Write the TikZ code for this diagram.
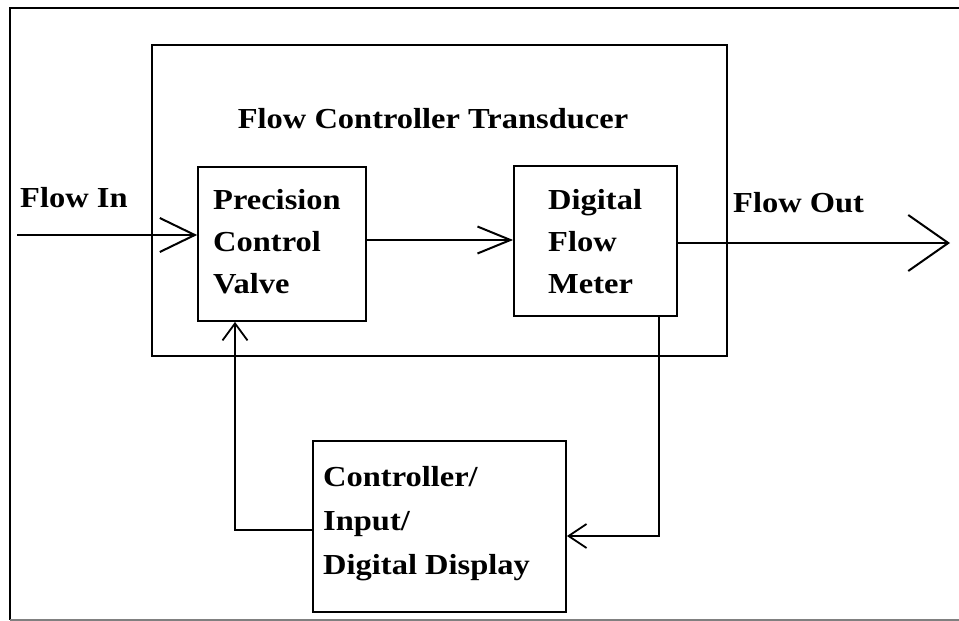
\documentclass[tikz,border=0pt]{standalone}
\usepackage{fontspec}
\newfontfamily\diafont{Liberation Serif}[FakeStretch=1.12]
\usetikzlibrary{arrows.meta}
\tikzset{
  box/.style={draw, line width=1.8pt, inner sep=0pt},
  conn/.style={line width=1.5pt},
  lbl/.style={inner sep=0pt, font=\diafont\bfseries\fontsize{29}{42}\selectfont, align=left},
  lblc/.style={inner sep=0pt, font=\diafont\bfseries\fontsize{29}{44}\selectfont, align=left},
}
\begin{document}
\begin{tikzpicture}[x=1pt,y=-1pt]
\useasboundingbox (0,0) rectangle (959,621);
% outer frame
\draw[line width=2.5pt] (959,8) -- (10,8) -- (10,620);
\draw[line width=2pt, gray] (10,620) -- (959,620);
% boxes
\node[box, minimum width=575, minimum height=311] (fct) at (439.5,200.5) {};
\node[box, minimum width=168, minimum height=154] (pcv) at (282,244) {};
\node[box, minimum width=163, minimum height=150] (dfm) at (595.5,241) {};
\node[box, minimum width=253, minimum height=171] (ctrl) at (439.5,526.5) {};
% texts
\node[lbl, anchor=base] (title) at (433,128) {Flow Controller Transducer};
\node[lbl, anchor=base west] (flowin) at (20,207) {Flow In};
\node[lbl, anchor=base west] (flowout) at (733,212) {Flow Out};
\node[lbl, anchor=west] (pcvtext) at (213,241.5) {Precision\\Control\\Valve};
\node[lbl, anchor=west] (dfmtext) at (548,241.5) {Digital\\Flow\\Meter};
\node[lblc, anchor=west] (ctrltext) at (323,523.5) {Controller/\\Input/\\Digital Display};
% connector coordinates
\coordinate (inS) at (17,235);
\coordinate (midy) at (0,240);
\coordinate (outE) at (950,243);
\coordinate (fbx) at (659,536);
\coordinate (fb2) at (235,530);
% connectors
\draw[conn, -{Straight Barb[length=35pt,width=34pt,line width=2pt]}] (inS) -- (inS -| pcv.west);
\draw[conn, -{Straight Barb[length=33pt,width=27pt,line width=2pt]}] (pcv.east |- midy) -- (dfm.west |- midy);
\draw[conn, -{Straight Barb[length=40pt,width=56pt,line width=2pt]}] (dfm.east |- outE) -- (outE);
\draw[conn, -{Straight Barb[length=18pt,width=24pt,line width=1.8pt]}] (fbx |- dfm.south) -- (fbx) -- (fbx -| ctrl.east);
\draw[conn, -{Straight Barb[length=17pt,width=25pt,line width=1.8pt]}] (fb2 -| ctrl.west) -- (fb2) -- (fb2 |- pcv.south);
\end{tikzpicture}
\end{document}
